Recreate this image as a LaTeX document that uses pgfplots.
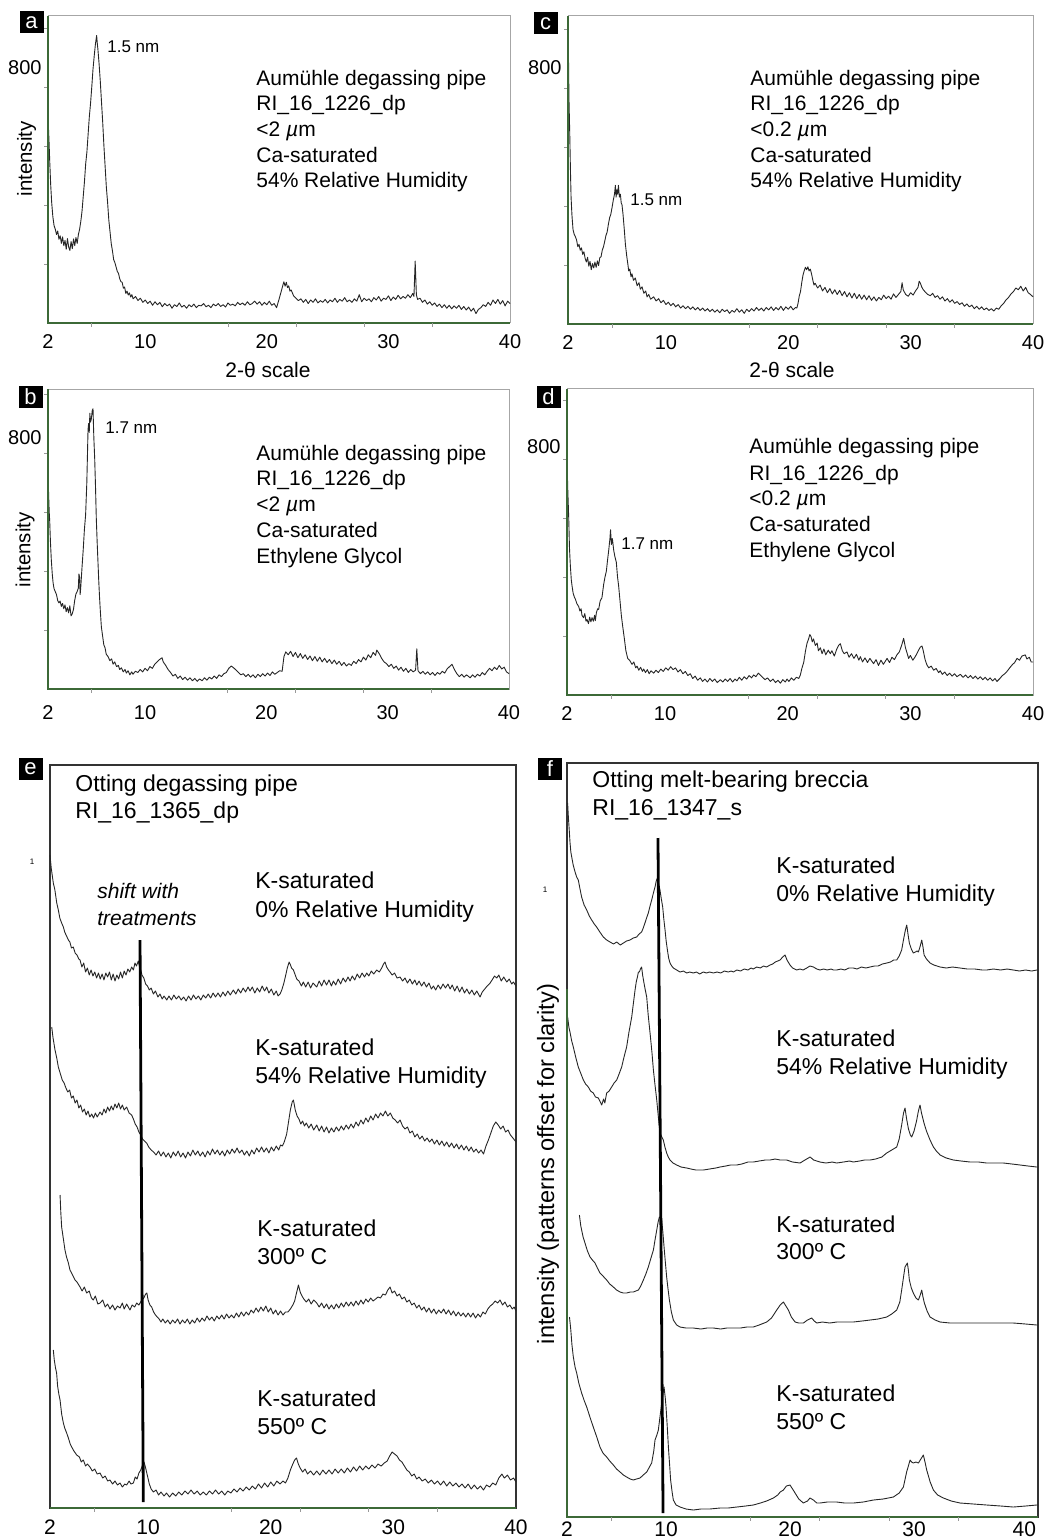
\documentclass[border=0pt]{standalone}
\usepackage{pgfplots}
\pgfplotsset{compat=1.18}
\usepackage{fontspec}
\setmainfont{Liberation Sans}
\definecolor{axgreen}{RGB}{60,105,55}
\pgfplotsset{
 xrd/.style={black!85, line width=0.45pt, line join=round, mark=none},
 topstyle/.style={scale only axis, xmin=2, xmax=40, ymin=0, clip=false,
   axis line style={draw=gray!70, line width=0.5pt},
   xtick={2,10,20,30,40}, xticklabels={2,10,20,30,40}, xtick style={draw=none},
   ytick={200,400,600,800,1000}, yticklabels={,,,800,}, ytick pos=left,
   tick align=outside, major tick length=2pt, ytick style={gray!80, line width=0.4pt},
   tick label style={font=\fontsize{10}{12}\selectfont, text=black},
   yticklabel style={inner sep=1pt}},
 botstyle/.style={scale only axis, xmin=2, xmax=40, ymin=0, clip=false,
   axis line style={draw=black!80, line width=0.6pt},
   xtick={2,10,20,30,40}, xticklabels={2,10,20,30,40}, xtick style={draw=none},
   ytick=\empty,
   tick label style={font=\fontsize{10.5}{12.6}\selectfont, text=black}},
}
\newcommand{\minorx}{\pgfplotsinvokeforeach{5.6,16.8,22.4,28,33.6}{\draw[gray!80, line width=0.4pt] (axis cs:##1,0) -- ++(0pt,-2pt);}}
\newcommand{\lbl}[1]{\fontsize{#1}{#1}\selectfont}
\tikzset{plab/.style={fill=black, text=white, inner sep=0pt, minimum width=12pt, minimum height=11pt, font=\fontsize{11}{11}\selectfont}}
\begin{document}
\begin{tikzpicture}[x=1pt,y=1pt]
\path[use as bounding box] (0,0) rectangle (522,-770);

% ---------------- panel a ----------------
\begin{axis}[topstyle, at={(24pt,-8pt)}, anchor=north west, width=231pt, height=153.5pt, ymax=1041,
  yticklabel style={yshift=9.5pt}]
\addplot[xrd] table[row sep=\\]{x y\\
2.00 700\\ 2.08 620\\ 2.15 540\\ 2.22 470\\ 2.30 410\\ 2.40 360\\ 2.50 330\\ 2.60 318\\ 2.70 300\\ 2.80 312\\
2.90 284\\ 3.00 296\\ 3.10 270\\ 3.20 292\\ 3.30 262\\ 3.40 280\\ 3.50 250\\ 3.60 286\\ 3.70 258\\ 3.80 246\\
3.90 276\\ 4.00 252\\ 4.10 285\\ 4.20 262\\ 4.30 290\\ 4.40 270\\ 4.50 300\\ 4.60 318\\ 4.70 345\\ 4.80 380\\
4.90 430\\ 5.00 480\\ 5.10 540\\ 5.20 580\\ 5.30 640\\ 5.40 700\\ 5.50 745\\ 5.60 800\\ 5.70 860\\ 5.80 905\\
5.90 945\\ 6.00 975\\ 6.05 950\\ 6.10 930\\ 6.20 880\\ 6.30 820\\ 6.40 750\\ 6.50 680\\ 6.60 600\\ 6.70 530\\
6.80 460\\ 6.90 410\\ 7.00 350\\ 7.10 310\\ 7.20 270\\ 7.30 245\\ 7.40 215\\ 7.50 205\\ 7.60 190\\ 7.70 175\\
7.80 168\\ 7.90 150\\ 8.00 140\\ 8.10 138\\ 8.20 118\\ 8.30 122\\ 8.40 100\\ 8.50 108\\ 8.60 95\\ 8.70 102\\
8.80 88\\ 8.90 96\\ 9.00 82\\ 9.20 90\\ 9.40 76\\ 9.60 84\\ 9.80 70\\ 10.0 78\\ 10.2 66\\ 10.4 74\\
10.6 60\\ 10.8 72\\ 11.0 62\\ 11.2 70\\ 11.4 55\\ 11.6 66\\ 11.8 58\\ 12.0 64\\ 12.2 50\\ 12.4 62\\
12.6 56\\ 12.8 68\\ 13.0 54\\ 13.2 60\\ 13.4 50\\ 13.6 62\\ 13.8 55\\ 14.0 64\\ 14.2 52\\ 14.4 60\\
14.6 58\\ 14.8 66\\ 15.0 55\\ 15.2 60\\ 15.4 52\\ 15.6 64\\ 15.8 58\\ 16.0 66\\ 16.2 56\\ 16.4 62\\
16.6 54\\ 16.8 68\\ 17.0 60\\ 17.2 64\\ 17.4 58\\ 17.6 70\\ 17.8 62\\ 18.0 68\\ 18.2 60\\ 18.4 72\\
18.6 62\\ 18.8 66\\ 19.0 74\\ 19.2 64\\ 19.4 72\\ 19.6 60\\ 19.8 70\\ 20.0 62\\ 20.2 74\\ 20.4 60\\
20.6 66\\ 20.8 52\\ 21.0 80\\ 21.2 110\\ 21.4 140\\ 21.5 125\\ 21.6 138\\ 21.7 120\\ 21.8 126\\ 21.9 108\\
22.0 112\\ 22.2 92\\ 22.4 84\\ 22.6 76\\ 22.8 82\\ 23.0 70\\ 23.2 80\\ 23.4 66\\ 23.6 78\\ 23.8 70\\
24.0 82\\ 24.2 68\\ 24.4 76\\ 24.6 70\\ 24.8 80\\ 25.0 68\\ 25.2 78\\ 25.4 72\\ 25.6 84\\ 25.8 70\\
26.0 80\\ 26.2 74\\ 26.4 86\\ 26.6 72\\ 26.8 78\\ 27.0 70\\ 27.2 82\\ 27.4 74\\ 27.6 96\\ 27.8 72\\
28.0 84\\ 28.2 76\\ 28.4 82\\ 28.6 72\\ 28.8 86\\ 29.0 78\\ 29.2 90\\ 29.4 74\\ 29.6 84\\ 29.8 80\\
30.0 92\\ 30.2 76\\ 30.4 88\\ 30.6 80\\ 30.8 94\\ 31.0 82\\ 31.2 90\\ 31.4 84\\ 31.6 96\\ 31.8 86\\
32.0 100\\ 32.1 90\\ 32.2 210\\ 32.3 95\\ 32.4 80\\ 32.6 84\\ 32.8 70\\ 33.0 78\\ 33.2 64\\ 33.4 72\\
33.6 60\\ 33.8 68\\ 34.0 56\\ 34.2 64\\ 34.4 52\\ 34.6 62\\ 34.8 50\\ 35.0 60\\ 35.2 48\\ 35.4 58\\
35.6 50\\ 35.8 60\\ 36.0 46\\ 36.2 56\\ 36.4 44\\ 36.6 54\\ 36.8 40\\ 37.0 50\\ 37.2 32\\ 37.4 46\\
37.6 52\\ 37.8 62\\ 38.0 56\\ 38.2 70\\ 38.4 60\\ 38.6 78\\ 38.8 66\\ 39.0 80\\ 39.2 64\\ 39.4 76\\
39.6 58\\ 39.8 74\\ 40.0 66\\
};
\draw[axgreen, line width=0.8pt] (rel axis cs:0,1) -- (rel axis cs:0,0) -- (rel axis cs:1,0);
\minorx
\end{axis}

% ---------------- panel c ----------------
\begin{axis}[topstyle, at={(284pt,-8pt)}, anchor=north west, width=232.5pt, height=154pt, ymax=1044,
  yticklabel style={yshift=10pt}]
\addplot[xrd] table[row sep=\\]{x y\\
2.00 980\\ 2.04 900\\ 2.08 760\\ 2.14 650\\ 2.20 520\\ 2.25 430\\ 2.32 370\\ 2.41 320\\ 2.50 305\\ 2.60 296\\
2.70 285\\ 2.80 262\\ 2.90 270\\ 3.00 250\\ 3.10 258\\ 3.20 236\\ 3.30 245\\ 3.40 222\\ 3.50 210\\ 3.60 226\\
3.70 196\\ 3.80 212\\ 3.90 184\\ 4.00 205\\ 4.10 190\\ 4.20 210\\ 4.30 192\\ 4.40 214\\ 4.50 198\\ 4.60 225\\
4.70 228\\ 4.80 250\\ 4.90 262\\ 5.00 280\\ 5.10 300\\ 5.20 312\\ 5.30 338\\ 5.40 360\\ 5.50 372\\ 5.60 395\\
5.70 420\\ 5.80 440\\ 5.87 470\\ 5.93 430\\ 6.00 455\\ 6.06 440\\ 6.12 470\\ 6.20 430\\ 6.28 440\\ 6.35 410\\
6.41 405\\ 6.50 370\\ 6.60 320\\ 6.69 270\\ 6.80 230\\ 6.90 200\\ 6.96 180\\ 7.05 186\\ 7.15 160\\ 7.23 170\\
7.35 148\\ 7.50 156\\ 7.65 130\\ 7.80 140\\ 7.91 118\\ 8.05 126\\ 8.20 104\\ 8.35 112\\ 8.46 92\\ 8.60 100\\
8.75 84\\ 9.00 92\\ 9.20 78\\ 9.40 86\\ 9.60 72\\ 9.80 80\\ 10.0 66\\ 10.2 74\\ 10.4 62\\ 10.6 70\\
10.8 58\\ 11.0 66\\ 11.2 54\\ 11.4 62\\ 11.6 52\\ 11.8 60\\ 12.0 50\\ 12.2 58\\ 12.4 48\\ 12.6 56\\
12.8 46\\ 13.0 54\\ 13.2 44\\ 13.4 52\\ 13.6 42\\ 13.8 50\\ 14.0 40\\ 14.2 48\\ 14.4 38\\ 14.6 50\\
14.8 42\\ 15.0 48\\ 15.2 36\\ 15.4 46\\ 15.6 40\\ 15.8 52\\ 16.0 40\\ 16.2 48\\ 16.4 36\\ 16.6 50\\
16.8 42\\ 17.0 52\\ 17.2 44\\ 17.4 56\\ 17.6 46\\ 17.8 54\\ 18.0 44\\ 18.2 56\\ 18.4 48\\ 18.6 58\\
18.8 46\\ 19.0 56\\ 19.2 48\\ 19.4 60\\ 19.6 46\\ 19.8 58\\ 20.0 50\\ 20.2 60\\ 20.4 48\\ 20.6 56\\
20.7 54\\ 20.8 70\\ 20.9 95\\ 21.0 110\\ 21.1 140\\ 21.2 165\\ 21.3 180\\ 21.4 192\\ 21.5 184\\ 21.6 194\\
21.7 180\\ 21.8 186\\ 21.9 170\\ 22.0 150\\ 22.1 132\\ 22.2 138\\ 22.4 122\\ 22.6 132\\ 22.8 112\\ 23.0 124\\
23.2 106\\ 23.4 120\\ 23.6 102\\ 23.8 116\\ 24.0 100\\ 24.2 114\\ 24.4 96\\ 24.6 110\\ 24.8 92\\ 25.0 106\\
25.2 88\\ 25.4 104\\ 25.6 86\\ 25.8 100\\ 26.0 84\\ 26.2 98\\ 26.4 82\\ 26.6 96\\ 26.8 80\\ 27.0 92\\
27.2 78\\ 27.4 90\\ 27.6 82\\ 27.8 98\\ 28.0 86\\ 28.2 94\\ 28.4 84\\ 28.6 102\\ 28.8 90\\ 29.0 100\\
29.2 110\\ 29.3 140\\ 29.4 115\\ 29.6 100\\ 29.8 94\\ 30.0 106\\ 30.2 98\\ 30.4 112\\ 30.6 124\\ 30.7 145\\
30.8 138\\ 30.9 126\\ 31.0 118\\ 31.2 108\\ 31.4 100\\ 31.6 96\\ 31.8 104\\ 32.0 90\\ 32.2 96\\ 32.4 84\\
32.6 92\\ 32.8 78\\ 33.0 86\\ 33.2 74\\ 33.4 82\\ 33.6 70\\ 33.8 76\\ 34.0 66\\ 34.2 72\\ 34.4 60\\
34.6 68\\ 34.8 58\\ 35.0 64\\ 35.2 52\\ 35.4 60\\ 35.6 50\\ 35.8 58\\ 36.0 48\\ 36.2 54\\ 36.4 46\\
36.6 52\\ 36.8 44\\ 37.0 54\\ 37.2 50\\ 37.4 62\\ 37.6 70\\ 37.8 82\\ 38.0 90\\ 38.2 102\\ 38.4 110\\
38.6 122\\ 38.8 116\\ 39.0 128\\ 39.2 112\\ 39.4 124\\ 39.6 106\\ 39.8 100\\ 40.0 92\\
};
\draw[axgreen, line width=0.8pt] (rel axis cs:0,1) -- (rel axis cs:0,0) -- (rel axis cs:1,0);
\minorx
\end{axis}

% ---------------- panel b ----------------
\begin{axis}[topstyle, at={(24pt,-194.5pt)}, anchor=north west, width=230.5pt, height=150pt, ymax=1017,
  yticklabel style={yshift=7.5pt}, xticklabel style={yshift=-2.5pt}]
\addplot[xrd] table[row sep=\\]{x y\\
2.00 750\\ 2.05 660\\ 2.10 600\\ 2.14 570\\ 2.20 500\\ 2.27 440\\ 2.35 390\\ 2.42 360\\ 2.50 340\\ 2.60 330\\
2.70 320\\ 2.80 300\\ 2.90 292\\ 3.00 298\\ 3.10 280\\ 3.20 290\\ 3.30 272\\ 3.40 285\\ 3.50 262\\ 3.60 276\\
3.70 258\\ 3.80 282\\ 3.90 248\\ 4.00 255\\ 4.10 270\\ 4.20 300\\ 4.30 322\\ 4.40 330\\ 4.50 342\\ 4.55 390\\
4.60 380\\ 4.65 320\\ 4.70 345\\ 4.80 410\\ 4.90 470\\ 5.00 540\\ 5.10 590\\ 5.20 700\\ 5.30 880\\ 5.35 900\\
5.40 870\\ 5.45 935\\ 5.50 905\\ 5.57 915\\ 5.65 945\\ 5.71 950\\ 5.78 850\\ 5.85 780\\ 5.92 680\\ 5.98 580\\
6.05 500\\ 6.12 430\\ 6.18 370\\ 6.25 310\\ 6.32 260\\ 6.40 210\\ 6.50 180\\ 6.60 150\\ 6.70 140\\ 6.80 118\\
6.95 110\\ 7.10 96\\ 7.25 102\\ 7.36 84\\ 7.50 92\\ 7.65 76\\ 7.80 80\\ 7.91 66\\ 8.05 72\\ 8.20 58\\
8.35 66\\ 8.46 54\\ 8.60 62\\ 8.75 48\\ 8.90 58\\ 9.00 50\\ 9.20 60\\ 9.40 56\\ 9.60 66\\ 9.80 58\\
10.0 70\\ 10.2 62\\ 10.4 76\\ 10.6 70\\ 10.8 84\\ 11.0 92\\ 11.2 100\\ 11.4 106\\ 11.5 92\\ 11.7 80\\
11.9 66\\ 12.1 56\\ 12.3 44\\ 12.5 50\\ 12.7 36\\ 12.9 44\\ 13.1 32\\ 13.3 40\\ 13.5 30\\ 13.7 38\\
13.9 28\\ 14.1 36\\ 14.3 26\\ 14.5 34\\ 14.7 28\\ 14.9 38\\ 15.1 30\\ 15.3 40\\ 15.5 34\\ 15.7 44\\
15.9 36\\ 16.1 48\\ 16.3 42\\ 16.5 52\\ 16.7 56\\ 16.9 70\\ 17.1 78\\ 17.3 72\\ 17.5 64\\ 17.7 56\\
17.9 48\\ 18.1 52\\ 18.3 42\\ 18.5 50\\ 18.7 40\\ 18.9 48\\ 19.1 38\\ 19.3 50\\ 19.5 42\\ 19.7 52\\
19.9 44\\ 20.1 54\\ 20.3 46\\ 20.5 58\\ 20.7 50\\ 20.9 56\\ 21.1 62\\ 21.3 60\\ 21.45 110\\ 21.6 126\\
21.8 116\\ 22.0 128\\ 22.2 110\\ 22.4 124\\ 22.6 106\\ 22.8 120\\ 23.0 104\\ 23.2 116\\ 23.4 100\\ 23.6 112\\
23.8 96\\ 24.0 110\\ 24.2 94\\ 24.4 108\\ 24.6 92\\ 24.8 104\\ 25.0 90\\ 25.2 100\\ 25.4 86\\ 25.6 98\\
25.8 84\\ 26.0 94\\ 26.2 80\\ 26.4 90\\ 26.6 78\\ 26.8 86\\ 27.0 80\\ 27.2 94\\ 27.4 86\\ 27.6 100\\
27.8 92\\ 28.0 108\\ 28.2 98\\ 28.4 116\\ 28.6 106\\ 28.8 124\\ 29.0 114\\ 29.1 132\\ 29.3 120\\ 29.5 104\\
29.7 92\\ 29.9 86\\ 30.1 76\\ 30.3 84\\ 30.5 70\\ 30.7 78\\ 30.9 64\\ 31.1 74\\ 31.3 60\\ 31.5 70\\
31.7 56\\ 31.9 66\\ 32.1 58\\ 32.3 64\\ 32.4 136\\ 32.5 62\\ 32.7 52\\ 32.9 60\\ 33.1 50\\ 33.3 58\\
33.5 48\\ 33.7 56\\ 33.9 46\\ 34.1 56\\ 34.3 50\\ 34.5 60\\ 34.7 54\\ 34.9 68\\ 35.1 76\\ 35.3 84\\
35.5 66\\ 35.7 52\\ 35.9 42\\ 36.1 50\\ 36.3 40\\ 36.5 48\\ 36.8 38\\ 37.0 48\\ 37.2 40\\ 37.4 50\\
37.6 44\\ 37.8 56\\ 38.0 48\\ 38.2 60\\ 38.4 70\\ 38.6 62\\ 38.8 74\\ 39.0 66\\ 39.2 80\\ 39.4 68\\
39.6 74\\ 39.8 58\\ 40.0 52\\
};
\draw[axgreen, line width=0.8pt] (rel axis cs:0,1) -- (rel axis cs:0,0) -- (rel axis cs:1,0);
\minorx
\end{axis}

% ---------------- panel d ----------------
\begin{axis}[topstyle, at={(283.5pt,-194.5pt)}, anchor=north west, width=233pt, height=153pt, ymax=1037,
  yticklabel style={yshift=6pt}]
\addplot[xrd] table[row sep=\\]{x y\\
2.00 800\\ 2.06 700\\ 2.14 600\\ 2.20 500\\ 2.27 440\\ 2.35 390\\ 2.41 370\\ 2.50 345\\ 2.60 332\\ 2.68 325\\
2.80 310\\ 2.95 300\\ 3.05 285\\ 3.15 292\\ 3.22 270\\ 3.35 262\\ 3.45 276\\ 3.55 250\\ 3.63 256\\ 3.75 242\\
3.85 264\\ 3.95 248\\ 4.04 262\\ 4.15 250\\ 4.25 270\\ 4.31 252\\ 4.40 280\\ 4.50 292\\ 4.58 290\\ 4.70 318\\
4.85 330\\ 4.99 375\\ 5.10 400\\ 5.21 420\\ 5.30 455\\ 5.40 490\\ 5.50 530\\ 5.55 560\\ 5.62 510\\ 5.70 530\\
5.81 490\\ 5.90 470\\ 6.02 450\\ 6.12 400\\ 6.21 370\\ 6.32 320\\ 6.43 270\\ 6.55 230\\ 6.68 190\\ 6.80 150\\
6.95 124\\ 7.10 118\\ 7.30 104\\ 7.45 112\\ 7.60 92\\ 7.71 98\\ 7.85 84\\ 8.00 94\\ 8.15 80\\ 8.25 88\\
8.40 76\\ 8.55 86\\ 8.70 72\\ 8.85 82\\ 9.07 74\\ 9.25 84\\ 9.45 76\\ 9.65 88\\ 9.85 80\\ 10.05 92\\
10.25 84\\ 10.45 96\\ 10.65 86\\ 10.85 92\\ 11.05 78\\ 11.25 86\\ 11.45 72\\ 11.65 80\\ 11.85 66\\ 12.05 72\\
12.25 56\\ 12.45 64\\ 12.65 50\\ 12.87 58\\ 13.05 46\\ 13.25 54\\ 13.45 44\\ 13.65 56\\ 13.85 46\\ 14.05 54\\
14.25 42\\ 14.5 52\\ 14.7 44\\ 14.9 54\\ 15.1 46\\ 15.3 56\\ 15.5 44\\ 15.7 54\\ 15.86 48\\ 16.05 60\\
16.25 50\\ 16.45 62\\ 16.65 54\\ 16.85 66\\ 17.05 58\\ 17.22 68\\ 17.4 62\\ 17.6 74\\ 17.76 68\\ 17.95 60\\
18.15 52\\ 18.35 58\\ 18.58 46\\ 18.8 54\\ 19.0 42\\ 19.2 50\\ 19.4 40\\ 19.6 52\\ 19.8 44\\ 19.94 54\\
20.1 46\\ 20.3 58\\ 20.5 50\\ 20.7 60\\ 20.9 56\\ 21.03 68\\ 21.15 90\\ 21.3 110\\ 21.45 150\\ 21.57 175\\
21.7 190\\ 21.8 205\\ 21.9 198\\ 22.0 180\\ 22.1 190\\ 22.25 168\\ 22.4 176\\ 22.5 150\\ 22.66 160\\ 22.8 140\\
22.95 156\\ 23.1 136\\ 23.3 152\\ 23.47 140\\ 23.6 150\\ 23.8 132\\ 24.0 156\\ 24.15 168\\ 24.29 174\\ 24.45 150\\
24.6 140\\ 24.83 146\\ 25.0 128\\ 25.2 140\\ 25.4 124\\ 25.6 138\\ 25.8 118\\ 25.92 130\\ 26.1 112\\ 26.3 126\\
26.5 110\\ 26.7 124\\ 27.0 106\\ 27.2 120\\ 27.4 100\\ 27.6 118\\ 27.8 104\\ 28.1 124\\ 28.3 110\\ 28.5 128\\
28.7 120\\ 28.9 136\\ 29.1 146\\ 29.3 170\\ 29.45 192\\ 29.6 160\\ 29.86 124\\ 30.0 134\\ 30.2 118\\ 30.4 130\\
30.6 146\\ 30.8 162\\ 30.95 166\\ 31.05 150\\ 31.2 120\\ 31.35 102\\ 31.5 92\\ 31.7 98\\ 31.9 84\\ 32.1 90\\
32.3 76\\ 32.44 82\\ 32.6 70\\ 32.8 78\\ 33.0 66\\ 33.2 74\\ 33.4 64\\ 33.6 72\\ 33.8 62\\ 34.07 70\\
34.3 60\\ 34.5 68\\ 34.7 58\\ 34.9 66\\ 35.1 56\\ 35.3 64\\ 35.5 54\\ 35.7 62\\ 35.9 52\\ 36.1 60\\
36.3 50\\ 36.5 58\\ 36.7 48\\ 36.9 56\\ 37.06 46\\ 37.3 56\\ 37.5 66\\ 37.7 72\\ 37.88 80\\ 38.1 92\\
38.3 102\\ 38.5 110\\ 38.7 124\\ 38.9 118\\ 39.1 132\\ 39.37 136\\ 39.5 122\\ 39.7 128\\ 39.85 112\\ 40.0 112\\
};
\draw[axgreen, line width=0.8pt] (rel axis cs:0,1) -- (rel axis cs:0,0) -- (rel axis cs:1,0);
\minorx
\end{axis}

% ---------------- panel e ----------------
\begin{axis}[botstyle, at={(25pt,-382.5pt)}, anchor=north west, width=233pt, height=371.5pt, ymax=743,
  xticklabel style={yshift=-2.2pt}]
% K-saturated 0% RH
\addplot[xrd] table[row sep=\\]{x y\\
2.00 653\\ 2.10 640\\ 2.27 625\\ 2.40 618\\ 2.55 605\\ 2.68 598\\ 2.80 590\\ 2.95 585\\ 3.09 581\\ 3.20 576\\
3.35 572\\ 3.50 568\\ 3.62 566\\ 3.75 560\\ 3.90 561\\ 4.05 555\\ 4.20 553\\ 4.35 549\\ 4.45 548\\ 4.60 541\\
4.75 545\\ 4.90 536\\ 5.05 540\\ 5.20 533\\ 5.35 538\\ 5.50 532\\ 5.65 536\\ 5.80 530\\ 5.95 535\\ 6.10 529\\
6.25 534\\ 6.40 528\\ 6.55 535\\ 6.70 531\\ 6.85 536\\ 7.00 528\\ 7.15 534\\ 7.30 527\\ 7.45 533\\ 7.60 529\\
7.75 536\\ 7.90 530\\ 8.05 537\\ 8.20 533\\ 8.35 539\\ 8.50 536\\ 8.66 541\\ 8.80 538\\ 8.93 545\\ 9.05 542\\
9.20 547\\ 9.30 541\\ 9.40 538\\ 9.50 533\\ 9.65 530\\ 9.80 524\\ 9.95 522\\ 10.10 518\\ 10.25 520\\ 10.43 514\\
10.60 517\\ 10.80 511\\ 10.97 514\\ 11.15 509\\ 11.30 512\\ 11.52 508\\ 11.70 512\\ 11.90 508\\ 12.10 513\\ 12.30 509\\
12.50 512\\ 12.70 508\\ 12.90 511\\ 13.10 507\\ 13.30 512\\ 13.50 508\\ 13.70 513\\ 13.90 509\\ 14.10 512\\ 14.30 508\\
14.50 513\\ 14.70 510\\ 14.90 514\\ 15.10 510\\ 15.30 515\\ 15.50 511\\ 15.70 515\\ 15.90 511\\ 16.10 516\\ 16.30 512\\
16.50 517\\ 16.70 513\\ 16.95 518\\ 17.15 514\\ 17.35 519\\ 17.55 515\\ 17.75 520\\ 17.95 516\\ 18.15 521\\ 18.31 517\\
18.50 521\\ 18.70 515\\ 18.90 520\\ 19.10 516\\ 19.30 522\\ 19.50 517\\ 19.67 521\\ 19.85 515\\ 20.05 519\\ 20.25 513\\
20.45 517\\ 20.60 512\\ 20.76 514\\ 20.90 518\\ 21.05 524\\ 21.17 530\\ 21.35 540\\ 21.50 546\\ 21.58 544\\ 21.70 540\\
21.85 538\\ 22.00 533\\ 22.12 529\\ 22.30 527\\ 22.50 522\\ 22.66 526\\ 22.85 521\\ 23.05 526\\ 23.25 520\\ 23.45 525\\
23.75 521\\ 23.95 527\\ 24.15 522\\ 24.35 528\\ 24.55 523\\ 24.75 528\\ 24.95 522\\ 25.11 527\\ 25.30 523\\ 25.50 529\\
25.70 524\\ 25.90 530\\ 26.10 526\\ 26.30 531\\ 26.47 527\\ 26.65 532\\ 26.85 528\\ 27.05 534\\ 27.25 530\\ 27.45 535\\
27.65 531\\ 27.83 535\\ 28.00 532\\ 28.20 537\\ 28.40 534\\ 28.64 538\\ 28.85 536\\ 29.05 540\\ 29.20 544\\ 29.32 546\\
29.45 541\\ 29.60 538\\ 29.73 536\\ 29.90 533\\ 30.10 535\\ 30.30 530\\ 30.55 531\\ 30.75 527\\ 30.95 530\\ 31.15 525\\
31.35 529\\ 31.55 524\\ 31.75 528\\ 31.91 523\\ 32.10 527\\ 32.30 522\\ 32.50 526\\ 32.70 521\\ 32.90 525\\ 33.10 519\\
33.27 522\\ 33.45 518\\ 33.65 523\\ 33.85 519\\ 34.05 524\\ 34.25 520\\ 34.45 524\\ 34.63 519\\ 34.80 523\\ 35.00 517\\
35.20 522\\ 35.40 516\\ 35.60 521\\ 35.80 515\\ 35.99 519\\ 36.20 514\\ 36.40 518\\ 36.60 513\\ 36.80 517\\ 37.07 511\\
37.25 516\\ 37.45 519\\ 37.65 522\\ 37.89 525\\ 38.05 528\\ 38.25 532\\ 38.43 530\\ 38.60 533\\ 38.80 527\\ 39.00 531\\
39.25 526\\ 39.45 529\\ 39.65 524\\ 39.79 526\\ 40.00 522\\
};
% K-saturated 54% RH
\addplot[xrd] table[row sep=\\]{x y\\
2.14 481\\ 2.25 470\\ 2.41 458\\ 2.55 450\\ 2.68 441\\ 2.85 434\\ 3.00 428\\ 3.15 425\\ 3.30 420\\ 3.45 416\\
3.60 418\\ 3.75 410\\ 3.90 412\\ 4.05 405\\ 4.20 408\\ 4.35 400\\ 4.50 403\\ 4.65 396\\ 4.80 399\\ 4.95 393\\
5.10 397\\ 5.25 391\\ 5.40 394\\ 5.55 390\\ 5.70 395\\ 5.85 391\\ 6.08 396\\ 6.25 393\\ 6.40 399\\ 6.55 395\\
6.70 401\\ 6.85 397\\ 7.00 402\\ 7.15 398\\ 7.30 404\\ 7.45 400\\ 7.60 405\\ 7.75 399\\ 7.90 403\\ 8.05 398\\
8.25 401\\ 8.45 395\\ 8.66 393\\ 8.80 389\\ 8.95 384\\ 9.10 381\\ 9.25 376\\ 9.40 373\\ 9.55 369\\ 9.70 367\\
9.88 365\\ 10.05 361\\ 10.25 358\\ 10.45 356\\ 10.65 353\\ 10.85 357\\ 11.05 352\\ 11.25 356\\ 11.45 351\\ 11.65 355\\
11.85 350\\ 12.05 356\\ 12.25 352\\ 12.45 357\\ 12.65 351\\ 12.85 355\\ 13.05 350\\ 13.25 356\\ 13.45 352\\ 13.65 358\\
13.85 353\\ 14.05 357\\ 14.25 352\\ 14.45 356\\ 14.65 351\\ 14.85 357\\ 15.05 353\\ 15.25 359\\ 15.45 354\\ 15.65 358\\
15.85 353\\ 16.05 357\\ 16.25 352\\ 16.45 358\\ 16.65 354\\ 16.85 359\\ 17.05 355\\ 17.25 360\\ 17.45 355\\ 17.65 358\\
17.85 353\\ 18.05 357\\ 18.25 352\\ 18.45 358\\ 18.65 354\\ 18.85 360\\ 19.05 356\\ 19.25 361\\ 19.45 356\\ 19.65 360\\
19.85 355\\ 20.05 361\\ 20.25 357\\ 20.45 362\\ 20.65 358\\ 20.80 363\\ 20.95 362\\ 21.10 366\\ 21.30 374\\ 21.45 386\\
21.60 398\\ 21.75 406\\ 21.85 408\\ 22.00 398\\ 22.15 392\\ 22.30 389\\ 22.45 384\\ 22.60 387\\ 22.75 382\\ 22.90 385\\
23.10 380\\ 23.30 384\\ 23.50 378\\ 23.75 383\\ 23.95 377\\ 24.15 382\\ 24.35 376\\ 24.55 381\\ 24.75 375\\ 24.95 380\\
25.15 376\\ 25.35 381\\ 25.55 377\\ 25.75 382\\ 25.95 378\\ 26.15 383\\ 26.35 379\\ 26.55 384\\ 26.75 380\\ 26.95 386\\
27.15 382\\ 27.35 388\\ 27.55 384\\ 27.75 390\\ 27.95 386\\ 28.15 392\\ 28.35 388\\ 28.55 394\\ 28.75 390\\ 28.95 395\\
29.15 392\\ 29.35 397\\ 29.55 392\\ 29.75 395\\ 29.95 390\\ 30.15 388\\ 30.35 385\\ 30.55 388\\ 30.75 382\\ 30.95 379\\
31.15 381\\ 31.35 375\\ 31.55 377\\ 31.75 371\\ 31.95 374\\ 32.15 369\\ 32.35 372\\ 32.55 367\\ 32.75 370\\ 32.95 366\\
33.15 369\\ 33.35 364\\ 33.55 368\\ 33.75 363\\ 33.95 367\\ 34.15 362\\ 34.35 366\\ 34.55 361\\ 34.75 365\\ 34.95 360\\
35.15 364\\ 35.35 359\\ 35.55 363\\ 35.75 358\\ 35.95 362\\ 36.15 357\\ 36.35 361\\ 36.55 356\\ 36.75 359\\ 36.95 355\\
37.15 358\\ 37.35 354\\ 37.55 362\\ 37.75 368\\ 37.95 375\\ 38.15 382\\ 38.35 386\\ 38.55 383\\ 38.75 379\\ 38.95 382\\
39.15 376\\ 39.35 378\\ 39.55 373\\ 39.75 370\\ 40.00 366\\
};
% K-saturated 300 C
\addplot[xrd] table[row sep=\\]{x y\\
2.82 313\\ 2.88 296\\ 2.95 281\\ 3.08 270\\ 3.22 258\\ 3.35 251\\ 3.50 245\\ 3.63 238\\ 3.80 234\\ 4.04 228\\
4.20 226\\ 4.45 221\\ 4.62 217\\ 4.80 221\\ 4.99 215\\ 5.20 217\\ 5.38 210\\ 5.53 208\\ 5.70 212\\ 5.90 204\\
6.08 205\\ 6.30 208\\ 6.50 201\\ 6.70 204\\ 6.89 199\\ 7.10 203\\ 7.30 198\\ 7.50 202\\ 7.71 200\\ 7.90 205\\
8.05 199\\ 8.25 204\\ 8.52 198\\ 8.70 203\\ 8.90 201\\ 9.07 205\\ 9.25 203\\ 9.48 208\\ 9.65 210\\ 9.80 214\\
9.90 215\\ 10.00 208\\ 10.15 203\\ 10.29 201\\ 10.45 196\\ 10.60 193\\ 10.75 191\\ 10.90 189\\ 11.05 186\\ 11.20 189\\
11.40 185\\ 11.60 188\\ 11.80 184\\ 12.00 188\\ 12.20 185\\ 12.40 189\\ 12.60 184\\ 12.80 188\\ 13.00 185\\ 13.20 189\\
13.40 184\\ 13.60 188\\ 13.80 185\\ 14.00 190\\ 14.20 186\\ 14.40 190\\ 14.60 187\\ 14.80 192\\ 15.00 188\\ 15.20 191\\
15.40 187\\ 15.60 192\\ 15.80 189\\ 16.00 193\\ 16.20 189\\ 16.40 194\\ 16.60 190\\ 16.80 193\\ 17.00 190\\ 17.20 195\\
17.40 191\\ 17.60 196\\ 17.80 192\\ 18.00 196\\ 18.20 193\\ 18.40 198\\ 18.60 195\\ 18.80 200\\ 19.00 196\\ 19.20 201\\
19.40 197\\ 19.60 202\\ 19.80 196\\ 20.00 200\\ 20.20 194\\ 20.40 198\\ 20.60 193\\ 20.80 197\\ 21.00 193\\ 21.20 196\\
21.40 196\\ 21.60 199\\ 21.80 203\\ 21.95 207\\ 22.10 215\\ 22.26 223\\ 22.40 216\\ 22.55 212\\ 22.70 209\\ 22.90 206\\
23.10 209\\ 23.30 204\\ 23.50 208\\ 23.75 205\\ 23.95 201\\ 24.15 205\\ 24.35 200\\ 24.55 204\\ 24.75 199\\ 24.95 203\\
25.15 199\\ 25.35 204\\ 25.55 200\\ 25.75 205\\ 25.95 201\\ 26.15 206\\ 26.35 202\\ 26.55 206\\ 26.75 202\\ 26.95 207\\
27.15 203\\ 27.35 208\\ 27.55 204\\ 27.75 209\\ 27.95 206\\ 28.15 210\\ 28.35 207\\ 28.55 209\\ 28.75 211\\ 28.95 210\\
29.15 214\\ 29.35 213\\ 29.55 218\\ 29.73 221\\ 29.90 215\\ 30.10 217\\ 30.30 212\\ 30.50 214\\ 30.70 209\\ 30.90 211\\
31.10 206\\ 31.30 208\\ 31.50 203\\ 31.70 205\\ 31.90 200\\ 32.10 203\\ 32.30 198\\ 32.50 201\\ 32.70 196\\ 32.90 200\\
33.10 195\\ 33.30 199\\ 33.50 194\\ 33.70 198\\ 33.90 195\\ 34.10 199\\ 34.30 194\\ 34.50 198\\ 34.70 193\\ 34.90 197\\
35.10 192\\ 35.30 196\\ 35.50 192\\ 35.70 195\\ 35.90 191\\ 36.10 195\\ 36.30 191\\ 36.50 195\\ 36.70 190\\ 36.90 194\\
37.10 191\\ 37.30 196\\ 37.50 194\\ 37.70 199\\ 37.90 202\\ 38.10 204\\ 38.30 207\\ 38.50 205\\ 38.70 208\\ 38.90 203\\
39.10 206\\ 39.30 201\\ 39.50 203\\ 39.70 199\\ 39.85 201\\ 40.00 197\\
};
% K-saturated 550 C
\addplot[xrd] table[row sep=\\]{x y\\
2.27 158\\ 2.35 148\\ 2.45 140\\ 2.54 135\\ 2.62 122\\ 2.72 114\\ 2.82 108\\ 2.95 94\\ 3.09 85\\ 3.20 80\\
3.36 75\\ 3.50 70\\ 3.65 64\\ 3.77 61\\ 3.95 57\\ 4.18 53\\ 4.40 51\\ 4.55 46\\ 4.72 48\\ 4.90 42\\
5.05 44\\ 5.26 41\\ 5.45 37\\ 5.65 39\\ 5.85 34\\ 6.08 35\\ 6.30 30\\ 6.50 32\\ 6.70 27\\ 6.89 28\\
7.10 24\\ 7.30 27\\ 7.50 23\\ 7.71 25\\ 7.90 21\\ 8.10 24\\ 8.25 23\\ 8.45 27\\ 8.60 24\\ 8.80 25\\
8.95 31\\ 9.10 29\\ 9.25 35\\ 9.40 38\\ 9.55 43\\ 9.67 46\\ 9.80 40\\ 9.95 32\\ 10.10 24\\ 10.25 19\\
10.43 16\\ 10.65 18\\ 10.85 13\\ 11.05 16\\ 11.30 12\\ 11.50 15\\ 11.75 11\\ 12.00 15\\ 12.25 12\\ 12.50 16\\
12.75 13\\ 13.00 17\\ 13.25 14\\ 13.50 18\\ 13.75 14\\ 14.00 17\\ 14.25 13\\ 14.50 16\\ 14.75 13\\ 15.00 17\\
15.25 14\\ 15.50 18\\ 15.75 14\\ 16.00 17\\ 16.25 13\\ 16.50 17\\ 16.75 15\\ 17.00 19\\ 17.25 16\\ 17.50 20\\
17.75 17\\ 18.00 21\\ 18.25 18\\ 18.50 22\\ 18.75 19\\ 19.00 24\\ 19.25 20\\ 19.50 25\\ 19.75 21\\ 20.00 26\\
20.25 22\\ 20.50 27\\ 20.75 24\\ 21.00 27\\ 21.20 25\\ 21.40 30\\ 21.60 38\\ 21.80 44\\ 21.95 48\\ 22.10 50\\
22.25 44\\ 22.40 40\\ 22.60 36\\ 22.80 39\\ 23.00 34\\ 23.25 37\\ 23.50 33\\ 23.75 37\\ 24.00 33\\ 24.25 38\\
24.50 34\\ 24.75 38\\ 25.00 34\\ 25.25 39\\ 25.50 35\\ 25.75 39\\ 26.00 35\\ 26.25 40\\ 26.50 36\\ 26.75 41\\
27.00 37\\ 27.25 42\\ 27.50 38\\ 27.75 42\\ 28.00 39\\ 28.25 43\\ 28.50 40\\ 28.75 44\\ 29.00 42\\ 29.25 45\\
29.50 47\\ 29.70 52\\ 29.90 56\\ 30.10 54\\ 30.30 52\\ 30.50 48\\ 30.70 46\\ 30.90 42\\ 31.10 38\\ 31.30 36\\
31.50 32\\ 31.70 34\\ 31.90 29\\ 32.10 31\\ 32.35 27\\ 32.60 29\\ 32.85 25\\ 33.10 28\\ 33.35 24\\ 33.60 27\\
33.85 23\\ 34.10 27\\ 34.35 22\\ 34.60 26\\ 34.85 22\\ 35.10 25\\ 35.35 21\\ 35.60 24\\ 35.85 20\\ 36.10 24\\
36.35 19\\ 36.60 23\\ 36.85 19\\ 37.10 22\\ 37.35 18\\ 37.60 23\\ 37.85 21\\ 38.10 25\\ 38.35 23\\ 38.60 30\\
38.85 34\\ 39.05 30\\ 39.30 33\\ 39.55 28\\ 39.80 30\\ 40.00 26\\
};
\draw[black, line width=1.4pt] (axis cs:9.34,568) -- (axis cs:9.61,6);
\draw[axgreen, line width=0.8pt] (rel axis cs:0,0) -- (rel axis cs:1,0);
\minorx
\end{axis}

% ---------------- panel f ----------------
\begin{axis}[botstyle, at={(283.5pt,-381.5pt)}, anchor=north west, width=235.5pt, height=377pt, ymax=754,
  xticklabels={2,10,20,30,\makebox[0pt][r]{40\hspace{1pt}}}, xticklabel style={yshift=1pt}]
% K-saturated 0% RH
\addplot[xrd] table[row sep=\\]{x y\\
2.05 714\\ 2.11 700\\ 2.18 687\\ 2.24 675\\ 2.31 665\\ 2.38 660\\ 2.50 652\\ 2.65 645\\ 2.78 640\\ 2.91 637\\
3.05 628\\ 3.18 620\\ 3.38 612\\ 3.59 607\\ 3.80 601\\ 3.99 597\\ 4.20 593\\ 4.39 590\\ 4.65 585\\ 4.93 580\\
5.20 577\\ 5.47 575\\ 5.75 573\\ 6.01 575\\ 6.30 572\\ 6.55 574\\ 6.80 576\\ 7.08 577\\ 7.35 579\\ 7.62 580\\
7.82 583\\ 8.02 585\\ 8.15 589\\ 8.29 594\\ 8.42 599\\ 8.56 604\\ 8.70 611\\ 8.83 617\\ 8.97 624\\ 9.10 630\\
9.20 636\\ 9.29 639\\ 9.40 633\\ 9.50 627\\ 9.61 618\\ 9.72 610\\ 9.81 598\\ 9.91 587\\ 10.00 576\\ 10.10 567\\
10.20 559\\ 10.31 554\\ 10.45 551\\ 10.58 549\\ 10.85 547\\ 11.12 545\\ 11.40 546\\ 11.65 544\\ 11.90 545\\ 12.19 544\\
12.45 545\\ 12.70 543\\ 13.00 545\\ 13.25 544\\ 13.50 545\\ 13.81 544\\ 14.10 545\\ 14.40 544\\ 14.70 546\\ 15.00 545\\
15.25 546\\ 15.42 545\\ 15.70 547\\ 16.00 546\\ 16.30 548\\ 16.60 547\\ 16.85 549\\ 17.03 548\\ 17.30 550\\ 17.60 549\\
17.85 551\\ 18.10 550\\ 18.38 552\\ 18.60 553\\ 18.80 555\\ 19.00 556\\ 19.19 557\\ 19.40 560\\ 19.59 562\\ 19.75 557\\
19.99 552\\ 20.20 549\\ 20.53 547\\ 20.80 548\\ 21.05 547\\ 21.34 549\\ 21.60 551\\ 21.88 550\\ 22.15 548\\ 22.41 547\\
22.70 548\\ 23.00 547\\ 23.30 548\\ 23.50 547\\ 23.76 547\\ 24.10 548\\ 24.40 547\\ 24.75 549\\ 25.10 549\\ 25.40 548\\
25.75 550\\ 26.10 549\\ 26.45 550\\ 26.80 551\\ 27.10 551\\ 27.45 553\\ 27.79 554\\ 28.10 555\\ 28.35 557\\ 28.60 557\\
28.80 561\\ 29.00 567\\ 29.10 574\\ 29.19 580\\ 29.30 587\\ 29.41 592\\ 29.52 582\\ 29.62 574\\ 29.78 568\\ 29.94 564\\
30.10 565\\ 30.25 566\\ 30.35 565\\ 30.50 571\\ 30.62 577\\ 30.72 570\\ 30.81 562\\ 31.00 558\\ 31.29 554\\ 31.60 552\\
32.10 550\\ 32.60 549\\ 33.10 550\\ 33.71 549\\ 34.30 548\\ 34.90 548\\ 35.50 547\\ 35.86 547\\ 36.40 548\\ 37.00 547\\
37.50 548\\ 38.01 547\\ 38.50 546\\ 39.00 547\\ 39.50 546\\ 39.90 547\\ 40.00 547\\
};
% K-saturated 54% RH
\addplot[xrd] table[row sep=\\]{x y\\
2.05 500\\ 2.15 490\\ 2.24 485\\ 2.38 476\\ 2.51 470\\ 2.70 460\\ 2.91 450\\ 3.10 444\\ 3.32 437\\ 3.50 433\\
3.72 430\\ 3.90 426\\ 4.12 424\\ 4.30 420\\ 4.53 419\\ 4.65 416\\ 4.80 412\\ 4.95 418\\ 5.05 414\\ 5.20 424\\
5.40 426\\ 5.60 430\\ 5.80 434\\ 6.01 437\\ 6.20 443\\ 6.41 450\\ 6.60 460\\ 6.81 470\\ 7.00 485\\ 7.22 500\\
7.35 513\\ 7.49 527\\ 7.60 536\\ 7.68 540\\ 7.76 545\\ 7.84 545\\ 7.92 548\\ 8.02 550\\ 8.10 542\\ 8.21 534\\
8.30 528\\ 8.43 520\\ 8.55 502\\ 8.70 484\\ 8.85 465\\ 8.97 447\\ 9.10 432\\ 9.24 417\\ 9.37 400\\ 9.50 384\\
9.65 380\\ 9.77 377\\ 9.90 370\\ 10.04 364\\ 10.17 360\\ 10.31 357\\ 10.55 354\\ 10.85 352\\ 11.20 350\\ 11.66 349\\
12.00 348\\ 12.40 347\\ 13.00 347\\ 13.50 348\\ 14.00 349\\ 14.35 350\\ 14.80 351\\ 15.20 352\\ 15.69 352\\ 16.10 353\\
16.60 355\\ 17.03 355\\ 17.50 356\\ 18.00 357\\ 18.38 357\\ 18.80 358\\ 19.20 357\\ 19.72 357\\ 20.20 355\\ 20.80 354\\
21.20 357\\ 21.61 360\\ 21.90 357\\ 22.41 355\\ 22.90 354\\ 23.40 355\\ 23.76 354\\ 24.30 355\\ 24.80 356\\ 25.10 355\\
25.60 356\\ 26.00 357\\ 26.45 357\\ 26.90 358\\ 27.40 360\\ 27.79 364\\ 28.20 367\\ 28.60 370\\ 28.80 378\\ 29.00 392\\
29.15 404\\ 29.27 409\\ 29.40 398\\ 29.55 388\\ 29.70 382\\ 29.81 380\\ 30.00 386\\ 30.20 396\\ 30.35 406\\ 30.48 412\\
30.60 404\\ 30.80 394\\ 31.00 386\\ 31.29 377\\ 31.56 370\\ 31.80 366\\ 32.10 362\\ 32.60 359\\ 33.17 357\\ 33.80 356\\
34.52 355\\ 35.20 355\\ 35.86 354\\ 36.50 354\\ 37.21 354\\ 37.90 353\\ 38.55 352\\ 39.20 351\\ 39.90 350\\ 40.00 350\\
};
% K-saturated 300 C
\addplot[xrd] table[row sep=\\]{x y\\
3.00 302\\ 3.10 292\\ 3.18 287\\ 3.30 280\\ 3.45 274\\ 3.65 266\\ 3.86 260\\ 4.05 257\\ 4.26 254\\ 4.45 249\\
4.66 244\\ 4.90 241\\ 5.20 237\\ 5.45 233\\ 5.74 230\\ 6.00 227\\ 6.28 225\\ 6.55 224\\ 6.81 224\\ 7.10 225\\
7.35 225\\ 7.55 226\\ 7.76 227\\ 7.95 231\\ 8.16 237\\ 8.36 243\\ 8.56 250\\ 8.75 258\\ 8.97 267\\ 9.10 277\\
9.24 287\\ 9.35 295\\ 9.45 300\\ 9.55 299\\ 9.64 297\\ 9.74 284\\ 9.83 270\\ 9.94 254\\ 10.04 240\\ 10.15 228\\
10.26 217\\ 10.42 205\\ 10.58 197\\ 10.85 192\\ 11.12 190\\ 11.60 189\\ 12.19 189\\ 12.80 188\\ 13.30 189\\ 13.81 189\\
14.40 188\\ 14.90 189\\ 15.42 189\\ 16.00 189\\ 16.50 190\\ 17.03 190\\ 17.50 192\\ 18.11 195\\ 18.50 199\\ 18.92 207\\
19.20 212\\ 19.46 215\\ 19.66 211\\ 19.86 207\\ 20.10 200\\ 20.40 195\\ 20.70 194\\ 21.07 194\\ 21.40 197\\ 21.74 199\\
21.95 196\\ 22.15 194\\ 22.60 195\\ 23.20 194\\ 23.76 195\\ 24.40 195\\ 25.10 195\\ 25.80 196\\ 26.45 197\\ 27.10 198\\
27.79 200\\ 28.20 203\\ 28.60 207\\ 28.85 215\\ 29.00 227\\ 29.15 240\\ 29.27 250\\ 29.46 254\\ 29.55 246\\ 29.62 237\\
29.78 229\\ 29.94 224\\ 30.15 219\\ 30.35 217\\ 30.50 222\\ 30.62 227\\ 30.72 220\\ 30.83 214\\ 31.05 206\\ 31.29 200\\
31.70 197\\ 32.10 195\\ 32.90 194\\ 33.71 194\\ 34.80 194\\ 35.86 194\\ 37.00 194\\ 38.01 194\\ 39.00 193\\ 39.90 192\\
40.00 192\\
};
% K-saturated 550 C
\addplot[xrd] table[row sep=\\]{x y\\
2.20 200\\ 2.30 188\\ 2.40 172\\ 2.51 160\\ 2.65 150\\ 2.78 144\\ 2.95 134\\ 3.18 124\\ 3.40 116\\ 3.59 110\\
3.85 100\\ 4.12 90\\ 4.40 80\\ 4.66 70\\ 4.90 64\\ 5.20 60\\ 5.45 56\\ 5.74 52\\ 6.00 48\\ 6.28 45\\
6.55 42\\ 6.81 40\\ 7.10 38\\ 7.35 37\\ 7.60 38\\ 7.89 39\\ 8.15 42\\ 8.43 45\\ 8.65 50\\ 8.83 54\\
9.00 66\\ 9.10 77\\ 9.25 82\\ 9.37 87\\ 9.50 100\\ 9.64 114\\ 9.75 124\\ 9.83 130\\ 9.92 120\\ 9.99 110\\
10.10 88\\ 10.18 70\\ 10.28 52\\ 10.36 37\\ 10.48 25\\ 10.58 17\\ 10.80 12\\ 11.12 10\\ 11.60 8\\ 12.19 7\\
12.80 8\\ 13.50 8\\ 14.35 9\\ 15.00 9\\ 15.70 10\\ 16.40 11\\ 17.03 12\\ 17.60 14\\ 18.10 16\\ 18.65 19\\
19.00 22\\ 19.20 25\\ 19.46 27\\ 19.70 31\\ 19.99 32\\ 20.20 28\\ 20.40 24\\ 20.70 18\\ 21.07 14\\ 21.40 16\\
21.60 19\\ 21.88 17\\ 22.15 14\\ 22.41 14\\ 23.00 15\\ 23.76 15\\ 24.40 14\\ 25.10 14\\ 25.90 15\\ 26.72 17\\
27.50 18\\ 28.33 20\\ 28.80 24\\ 29.14 30\\ 29.40 45\\ 29.68 57\\ 29.80 55\\ 29.94 54\\ 30.15 55\\ 30.35 54\\
30.55 58\\ 30.75 62\\ 30.90 54\\ 31.02 47\\ 31.30 35\\ 31.56 27\\ 31.90 22\\ 32.37 19\\ 33.00 16\\ 33.71 14\\
34.80 13\\ 35.86 12\\ 37.00 11\\ 38.01 10\\ 39.00 11\\ 39.90 12\\ 40.00 12\\
};
\draw[black, line width=1.4pt] (axis cs:9.34,679) -- (axis cs:9.75,4);
\draw[axgreen, line width=0.8pt] (rel axis cs:0,0.7) -- (rel axis cs:0,0) -- (rel axis cs:1,0);
\minorx
\end{axis}

% ---------------- texts ----------------
\node[plab] at (15.75,-11.25) {a};
\node[plab] at (272.75,-11.75) {c};
\node[plab] at (15.25,-198.5) {b};
\node[plab] at (274.25,-198.5) {d};
\node[plab] at (15.25,-384.25) {e};
\node[plab] at (275,-384.25) {f};

\begin{scope}[every node/.style={anchor=base west, inner sep=0pt, font=\lbl{10.5pt}}]
\node at (128,-43) {Aumühle degassing pipe};
\node at (128,-55.5) {RI\_16\_1226\_dp};
\node at (128,-68.5) {<2 \textit{µ}m};
\node at (128,-81.5) {Ca-saturated};
\node at (128,-94) {54\% Relative Humidity};
\node at (375,-43) {Aumühle degassing pipe};
\node at (375,-55.5) {RI\_16\_1226\_dp};
\node at (375,-68.5) {<0.2 \textit{µ}m};
\node at (375,-81.5) {Ca-saturated};
\node at (375,-94) {54\% Relative Humidity};
\node at (128,-230) {Aumühle degassing pipe};
\node at (128,-242.5) {RI\_16\_1226\_dp};
\node at (128,-255.5) {<2 \textit{µ}m};
\node at (128,-268.5) {Ca-saturated};
\node at (128,-281.5) {Ethylene Glycol};
\node at (374.5,-226.5) {Aumühle degassing pipe};
\node at (374.5,-240) {RI\_16\_1226\_dp};
\node at (374.5,-252.5) {<0.2 \textit{µ}m};
\node at (374.5,-265.5) {Ca-saturated};
\node at (374.5,-278.5) {Ethylene Glycol};
\end{scope}

\begin{scope}[every node/.style={anchor=base west, inner sep=0pt, font=\lbl{8.5pt}}]
\node at (53.5,-26.5) {1.5 nm};
\node at (315,-103) {1.5 nm};
\node at (52.5,-216.5) {1.7 nm};
\node at (310.5,-274.5) {1.7 nm};
\end{scope}

\node[font=\lbl{10.5pt}, inner sep=0pt] at (134,-185) {2-θ scale};
\node[font=\lbl{10.5pt}, inner sep=0pt] at (396,-185) {2-θ scale};
\node[font=\lbl{10.2pt}, inner sep=0pt, rotate=90] at (13.25,-79.5) {intensity};
\node[font=\lbl{10.2pt}, inner sep=0pt, rotate=90] at (12.5,-275) {intensity};
\node[font=\lbl{11.8pt}, inner sep=0pt, rotate=90] at (274,-582) {intensity (patterns offset for clarity)};

\begin{scope}[every node/.style={anchor=base west, inner sep=0pt, font=\lbl{11.5pt}}]
\node at (37.5,-395.5) {Otting degassing pipe};
\node at (37.5,-409) {RI\_16\_1365\_dp};
\node at (127.5,-444) {K-saturated};
\node at (127.5,-458.5) {0\% Relative Humidity};
\node at (127.5,-527.5) {K-saturated};
\node at (127.5,-541.5) {54\% Relative Humidity};
\node at (128.5,-618) {K-saturated};
\node at (128.5,-632) {300º C};
\node at (128.5,-703) {K-saturated};
\node at (128.5,-717) {550º C};
\node at (296,-393.5) {Otting melt-bearing breccia};
\node at (296,-407.5) {RI\_16\_1347\_s};
\node at (388,-436.5) {K-saturated};
\node at (388,-450.5) {0\% Relative Humidity};
\node at (388,-523) {K-saturated};
\node at (388,-537) {54\% Relative Humidity};
\node at (388,-616) {K-saturated};
\node at (388,-629.5) {300º C};
\node at (388,-700.5) {K-saturated};
\node at (388,-714.5) {550º C};
\end{scope}
\node[anchor=base west, inner sep=0pt, font=\lbl{10.5pt}\itshape] at (48.5,-449) {shift with};
\node[anchor=base west, inner sep=0pt, font=\lbl{10.5pt}\itshape] at (48.5,-462.5) {treatments};
\node[inner sep=0pt, font=\lbl{4pt}] at (16,-431) {1};
\node[inner sep=0pt, font=\lbl{4pt}] at (272.5,-445) {1};
\end{tikzpicture}
\end{document}
